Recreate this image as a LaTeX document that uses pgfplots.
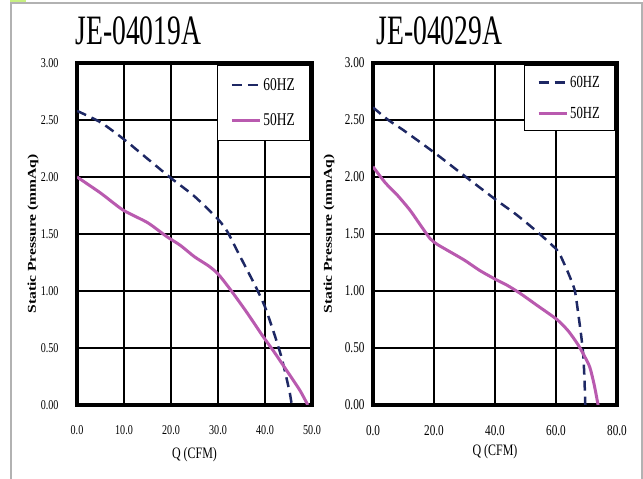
\documentclass[border=0pt]{standalone}
\usepackage{fontspec}
\setmainfont{Liberation Serif}
\newfontfamily\lblfont[FakeStretch=0.75]{Liberation Serif}
\newfontfamily\titlefont[FakeStretch=0.66]{Liberation Serif}
\newfontfamily\ylfont[FakeStretch=1.3]{Liberation Serif}
\usepackage{pgfplots}
\pgfplotsset{compat=1.18}
\definecolor{navy}{RGB}{30,40,100}
\definecolor{mag}{RGB}{185,90,175}
\definecolor{framegray}{RGB}{178,178,178}
\definecolor{lime}{RGB}{200,240,130}

\pgfplotsset{fanstyle/.style={
  scale only axis,
  xmin=0, ymin=0, ymax=3,
  ytick={0,0.5,1,1.5,2,2.5,3},
  grid=major,
  major grid style={black, line width=1.4bp},
  axis line style={black, line width=3.5bp},
  major tick length=0pt,
  /pgf/number format/assume math mode=true,
  yticklabel={\pgfmathprintnumber[fixed,fixed zerofill,precision=2]{\tick}},
  xticklabel={\pgfmathprintnumber[fixed,fixed zerofill,precision=1]{\tick}},
  legend image code/.code={\draw[##1] (0bp,0bp) -- (28bp,0bp);},
  legend cell align=left,
}}

\begin{document}
\begin{tikzpicture}[x=1bp,y=1bp]
\path[use as bounding box] (0,0) rectangle (643,479);
\draw[framegray, line width=2bp] (11,0) -- (11,475.5) -- (641.5,475.5) -- (641.5,0);
\fill[lime] (10,477) rectangle (26,479);

\begin{axis}[fanstyle,
  at={(77bp,74bp)}, anchor=south west, width=235bp, height=342bp,
  xmax=50, xtick={0,10,20,30,40,50},
  ticklabel style={font=\lblfont\fontsize{13.5}{13.5}\selectfont},
  yticklabel style={xshift=-15bp},
  xticklabel style={yshift=-17bp},
  title={JE-04019A},
  title style={at={(axis description cs:0,1)}, anchor=base west, xshift=-5bp, yshift=13bp, font=\titlefont\fontsize{42}{42}\selectfont},
  xlabel={Q (CFM)},
  xlabel style={at={(axis description cs:0.5,-0.146)}, anchor=center, font=\lblfont\fontsize{16}{16}\selectfont},
  ylabel={Static Pressure (mmAq)},
  ylabel style={at={(axis description cs:-0.187,0.5)}, anchor=center, font=\ylfont\bfseries\fontsize{12}{12}\selectfont},
  legend style={at={(1,1)}, xshift=-1.75bp, yshift=-1.75bp, anchor=north east, draw=black, line width=0.8bp, fill=white,
    font=\lblfont\fontsize{18}{18}\selectfont, row sep=18bp, inner xsep=13bp, inner ysep=11bp},
]
\addplot[navy, line width=2.5bp, dash pattern=on 10bp off 6bp, smooth, tension=0.4] coordinates {
(0,2.58) (5,2.48) (10,2.33) (15,2.16) (20,1.99) (25,1.83) (30,1.63) (32,1.52)
(34,1.36) (36,1.20) (38,1.04) (40,0.86) (42,0.62) (43.5,0.42) (44.5,0.25) (45.3,0.10) (45.7,0.0)};
\addplot[mag, line width=3bp, smooth, tension=0.4] coordinates {
(0,2.00) (5,1.86) (9.8,1.71) (15,1.60) (19,1.48) (22,1.40) (25,1.30) (28,1.22) (30,1.15)
(32.5,1.02) (36,0.82) (39.6,0.60) (41.7,0.48) (44,0.34) (47.4,0.13) (49.1,0.0)};
\legend{60HZ,50HZ}
\end{axis}

\begin{axis}[fanstyle,
  at={(373bp,74bp)}, anchor=south west, width=244bp, height=342bp,
  xmax=80, xtick={0,20,40,60,80},
  ticklabel style={font=\lblfont\fontsize{15}{15}\selectfont},
  yticklabel style={xshift=-5bp},
  xticklabel style={yshift=-17bp},
  title={JE-04029A},
  title style={at={(axis description cs:0,1)}, anchor=base west, xshift=0bp, yshift=13bp, font=\titlefont\fontsize{42}{42}\selectfont},
  xlabel={Q (CFM)},
  xlabel style={at={(axis description cs:0.5,-0.137)}, anchor=center, font=\lblfont\fontsize{16}{16}\selectfont},
  ylabel={Static Pressure (mmAq)},
  ylabel style={at={(axis description cs:-0.18,0.5)}, anchor=center, font=\ylfont\bfseries\fontsize{12}{12}\selectfont},
  legend style={at={(1,1)}, xshift=-1.75bp, yshift=-1.75bp, anchor=north east, draw=black, line width=0.8bp, fill=white,
    font=\lblfont\fontsize{17}{17}\selectfont, row sep=14bp, inner xsep=13bp, inner ysep=9bp},
]
\addplot[navy, line width=2.5bp, dash pattern=on 10bp off 6bp, smooth, tension=0.4] coordinates {
(0,2.61) (5,2.50) (10,2.41) (20.3,2.21) (29.5,2.02) (40.3,1.80) (47,1.67) (53.8,1.52)
(60.3,1.36) (62.5,1.25) (64.6,1.12) (66.2,1.00) (67.3,0.80) (68.2,0.62) (68.9,0.45) (69.3,0.25) (69.6,0.0)};
\addplot[mag, line width=3bp, smooth, tension=0.4] coordinates {
(0,2.09) (4,1.95) (8,1.84) (12.1,1.71) (15.5,1.58) (18.7,1.46) (21,1.41) (24.2,1.36) (30,1.27)
(35,1.18) (40.3,1.10) (44,1.05) (48.2,0.98) (54,0.87) (60.3,0.75) (64,0.65) (67.2,0.53)
(69.5,0.42) (71.1,0.33) (72.5,0.18) (73.8,0.0)};
\legend{60HZ,50HZ}
\end{axis}
\end{tikzpicture}
\end{document}
